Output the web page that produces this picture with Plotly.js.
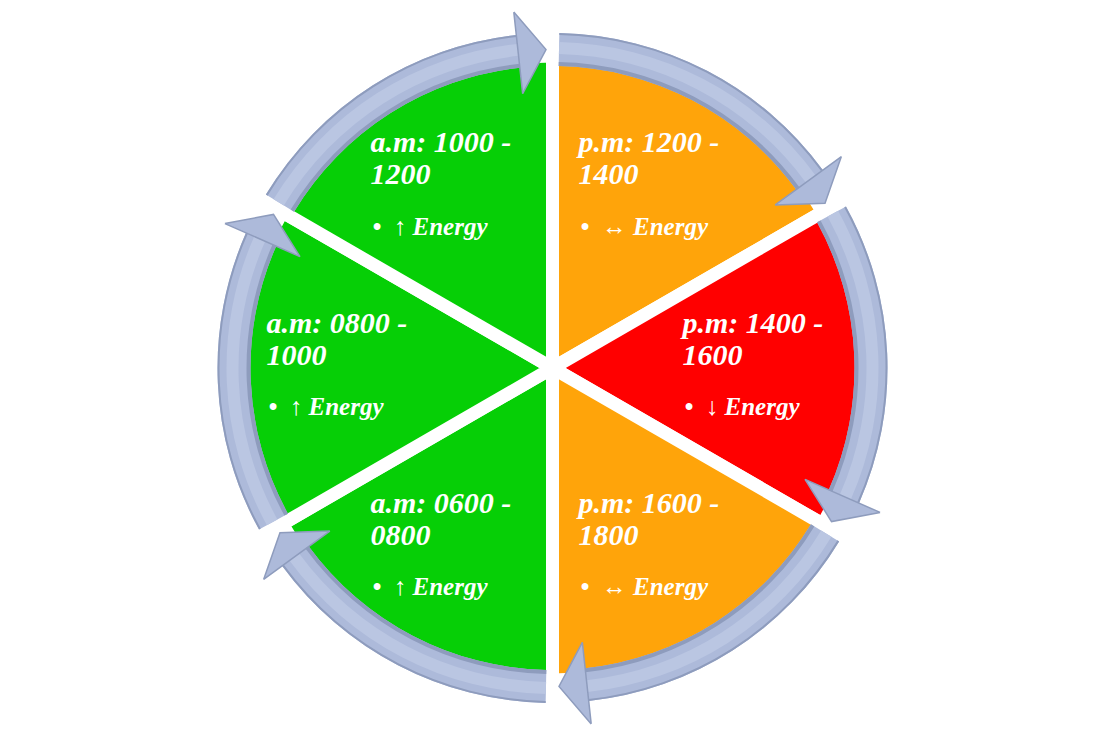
<!DOCTYPE html>
<html>
<head>
<meta charset="utf-8">
<script src="https://cdn.plot.ly/plotly-3.0.1.min.js"></script>
<style>
  html, body { margin: 0; padding: 0; background: #ffffff; }
  #chart { width: 1105px; height: 736px; }
</style>
</head>
<body>
<div id="chart"></div>
<script>
// day periods, clockwise from the lower left
const meridiem = ['a.m', 'a.m', 'a.m', 'p.m', 'p.m', 'p.m'];
const startTimes = ['0600', '0800', '1000', '1200', '1400', '1600'];
const endTimes = ['0800', '1000', '1200', '1400', '1600', '1800'];
const energyTrend = ['↑', '↑', '↑', '↔', '↓', '↔'];

const trendColor = { '↑': '#06CF06', '↔': '#FFA40A', '↓': '#FF0000' };
const arrowFill = '#ADBADA';
const arrowLight = '#BAC6E2';
const arrowEdge = '#8E9CBD';

// radii are in px because the radial range equals the polar radius
const R_MAX = 368;
const R_SLICE = 312, BAND_IN = 302, BAND_OUT = 335;
const HEAD_IN = 276, HEAD_OUT = 358, HEAD_TIP = 318.5;
const GAP_PX = 6.5, HEAD_PX = 28;
const START_ANGLE = 180; // clock degrees, bottom

const hours = startTimes.map((s, i) => (parseInt(endTimes[i], 10) - parseInt(s, 10)) / 100);
const totalHours = hours.reduce((a, b) => a + b, 0);
const spans = hours.map(h => 360 * h / totalHours);
const centers = [];
let acc = START_ANGLE;
spans.forEach(w => { centers.push(acc + w / 2); acc += w; });

const deg = px => px / HEAD_TIP * 180 / Math.PI;
const gapDeg = deg(GAP_PX), headDeg = deg(HEAD_PX);

// slices
const slices = {
  type: 'barpolar',
  theta: centers,
  width: spans,
  r: centers.map(() => R_SLICE),
  marker: { color: energyTrend.map(t => trendColor[t]), line: { color: '#ffffff', width: 13 } },
  hoverinfo: 'skip'
};

// arrow bodies
const bandWidth = spans.map(w => w - 2 * gapDeg - headDeg);
const bandCenter = centers.map((c, i) => c - spans[i] / 2 + gapDeg + bandWidth[i] / 2);
function ring(base, thick, color) {
  return {
    type: 'barpolar',
    theta: bandCenter,
    width: bandWidth,
    base: centers.map(() => base),
    r: centers.map(() => thick),
    marker: { color: color, line: { width: 0 } },
    hoverinfo: 'skip'
  };
}
const bands = ring(BAND_IN, BAND_OUT - BAND_IN, arrowFill);
const bandLight = ring(BAND_IN + 12, 12, arrowLight);
const bandInner = ring(BAND_IN, 4, arrowEdge);
const bandOuter = ring(BAND_OUT - 2, 2, arrowEdge);

// arrow heads
const heads = centers.map((c, i) => {
  const end = c + spans[i] / 2;
  const back = end - gapDeg - headDeg;
  const tip = end - gapDeg;
  return {
    type: 'scatterpolar',
    mode: 'lines',
    r: [HEAD_OUT, HEAD_TIP, HEAD_IN, HEAD_OUT],
    theta: [back, tip, back, back],
    fill: 'toself',
    fillcolor: arrowFill,
    line: { color: arrowEdge, width: 1.5 },
    hoverinfo: 'skip'
  };
});

// labels, left aligned inside each slice
const LABEL_R = 208;
function anchor(c, dx, dy) {
  const a = c * Math.PI / 180;
  const x = LABEL_R * Math.sin(a) + dx;
  const y = LABEL_R * Math.cos(a) + dy;
  return { r: Math.hypot(x, y), theta: Math.atan2(x, y) * 180 / Math.PI };
}
const labelFont = (size) => ({
  family: 'Liberation Serif, DejaVu Serif, serif',
  size: size, color: '#ffffff', weight: 'bold', style: 'italic'
});
function textTrace(texts, dx, dy, size) {
  const pts = centers.map(c => anchor(c, dx, dy));
  return {
    type: 'scatterpolar',
    mode: 'text',
    r: pts.map(p => p.r),
    theta: pts.map(p => p.theta),
    text: texts,
    textposition: 'middle right',
    textfont: labelFont(size),
    marker: { size: 1 },
    hoverinfo: 'skip'
  };
}
const line1 = textTrace(meridiem.map((m, i) => m + ': ' + startTimes[i] + ' -'), -78, 43, 30);
const line2 = textTrace(endTimes, -78, 11, 30);
const line3 = textTrace(energyTrend.map(t => '•  ' + t + ' Energy'), -76, -41, 25);

Plotly.newPlot('chart', [slices, bands, bandLight, bandInner, bandOuter, ...heads, line1, line2, line3], {
  width: 1105,
  height: 736,
  margin: { l: 0, r: 0, t: 0, b: 0 },
  paper_bgcolor: '#ffffff',
  showlegend: false,
  polar: {
    domain: { x: [0, 1], y: [0, 1] },
    bgcolor: 'rgba(0,0,0,0)',
    radialaxis: { visible: false, range: [0, R_MAX] },
    angularaxis: { visible: false, direction: 'clockwise', rotation: 90 }
  }
}, { displayModeBar: false, staticPlot: true });
</script>
</body>
</html>
